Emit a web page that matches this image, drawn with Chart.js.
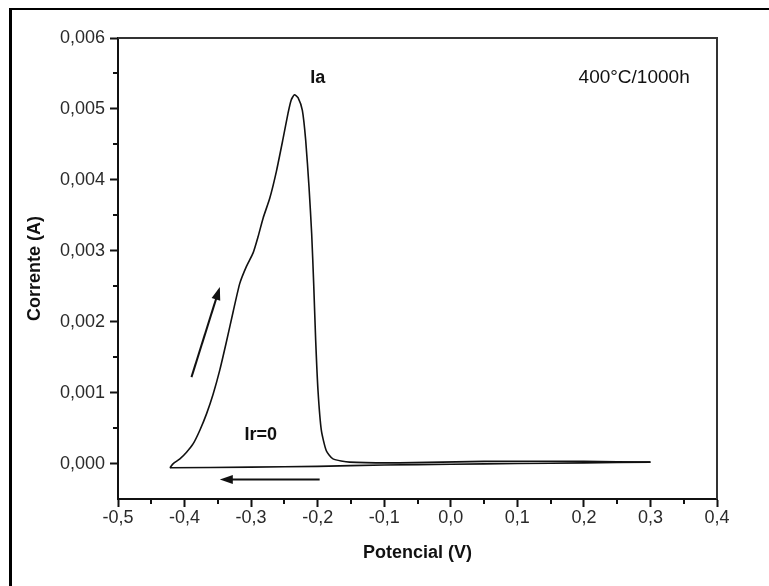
<!DOCTYPE html>
<html>
<head>
<meta charset="utf-8">
<script src="https://cdn.jsdelivr.net/npm/chart.js@4.4.1/dist/chart.umd.min.js"></script>
<style>
  html, body { margin: 0; padding: 0; background: #fff; }
  #wrap { position: relative; width: 769px; height: 586px; }
  #frame { position: absolute; left: 9px; top: 8px; right: 0; bottom: 0; border-left: 3px solid #000; border-top: 2px solid #000; pointer-events: none; }
</style>
</head>
<body>
<div id="wrap">
  <canvas id="cv" width="769" height="586"></canvas>
  <div id="frame"></div>
</div>
<script>
// varredura de ida (anódica)
const potencialIda = [-0.422, -0.417, -0.407, -0.397, -0.387, -0.377, -0.367, -0.357, -0.347, -0.337, -0.327, -0.317,
  -0.307, -0.297, -0.2895, -0.282, -0.272, -0.262, -0.252, -0.2445, -0.24, -0.235, -0.2295, -0.223, -0.218, -0.213, -0.209,
  -0.206, -0.203, -0.1995, -0.1945, -0.187, -0.177, -0.152, -0.077, 0.05, 0.2, 0.3];
const correnteIda = [-0.00006, 0.0, 0.000066, 0.00016, 0.00028, 0.00047, 0.0007, 0.00098, 0.00132, 0.00172, 0.00214, 0.00254,
  0.00278, 0.00297, 0.0032, 0.00346, 0.00374, 0.00412, 0.00458, 0.00494, 0.00512, 0.0052, 0.00516, 0.00498, 0.00456, 0.0039, 0.00324,
  0.00254, 0.00174, 0.00103, 0.00047, 0.00018, 0.000066, 0.00002, 0.00001, 0.00003, 0.00003, 0.00002];
// varredura de volta (catódica)
const potencialVolta = [0.3, 0.2, 0.1, 0.0, -0.1, -0.2, -0.3, -0.422];
const correnteVolta = [0.00002, 0.00001, 0.0, -0.00001, -0.00002, -0.00004, -0.00005, -0.00006];

const xTicks = [-0.5, -0.4, -0.3, -0.2, -0.1, 0.0, 0.1, 0.2, 0.3, 0.4];
const yTicks = [0.000, 0.001, 0.002, 0.003, 0.004, 0.005, 0.006];

const FONT = "'Liberation Sans', Arial, Helvetica, sans-serif";
const pts = (xs, ys) => xs.map((x, i) => ({ x: x, y: ys[i] }));
const virgula = (v, d) => v.toFixed(d).replace('.', ',');
const meios = arr => arr.slice(1).map((v, i) => (v + arr[i]) / 2);

const extras = {
  id: 'extras',
  afterDraw(chart) {
    const { ctx, chartArea: a, scales: { x, y } } = chart;
    ctx.save();
    // moldura superior e direita
    ctx.strokeStyle = '#333';
    ctx.lineWidth = 2;
    ctx.beginPath();
    ctx.moveTo(a.left, a.top); ctx.lineTo(a.right, a.top); ctx.lineTo(a.right, a.bottom);
    ctx.stroke();
    // ticks menores
    ctx.strokeStyle = '#111';
    ctx.lineWidth = 2;
    ctx.beginPath();
    meios(xTicks).forEach(v => { const px = Math.round(x.getPixelForValue(v)); ctx.moveTo(px, a.bottom); ctx.lineTo(px, a.bottom + 5); });
    meios(yTicks).concat([yTicks[yTicks.length - 1] - 0.0005]).forEach(v => { const py = Math.round(y.getPixelForValue(v)); ctx.moveTo(a.left, py); ctx.lineTo(a.left - 5, py); });
    ctx.stroke();

    // setas
    const seta = (x0, y0, x1, y1) => {
      const ax = x.getPixelForValue(x0), ay = y.getPixelForValue(y0);
      const bx = x.getPixelForValue(x1), by = y.getPixelForValue(y1);
      const ang = Math.atan2(by - ay, bx - ax);
      ctx.strokeStyle = '#111'; ctx.fillStyle = '#111'; ctx.lineWidth = 2;
      ctx.beginPath(); ctx.moveTo(ax, ay); ctx.lineTo(bx - 8 * Math.cos(ang), by - 8 * Math.sin(ang)); ctx.stroke();
      ctx.beginPath();
      ctx.moveTo(bx, by);
      ctx.lineTo(bx - 13 * Math.cos(ang) + 4.5 * Math.sin(ang), by - 13 * Math.sin(ang) - 4.5 * Math.cos(ang));
      ctx.lineTo(bx - 13 * Math.cos(ang) - 4.5 * Math.sin(ang), by - 13 * Math.sin(ang) + 4.5 * Math.cos(ang));
      ctx.closePath(); ctx.fill();
    };
    seta(-0.3896, 0.001218, -0.347, 0.002489);
    seta(-0.197, -0.000226, -0.347, -0.000226);

    // textos
    ctx.fillStyle = '#111';
    ctx.textAlign = 'center';
    ctx.textBaseline = 'middle';
    ctx.font = 'bold 18px ' + FONT;
    ctx.fillText('Ia', x.getPixelForValue(-0.2), y.getPixelForValue(0.00544));
    ctx.fillText('Ir=0', x.getPixelForValue(-0.2855), y.getPixelForValue(0.000395));
    ctx.font = '19px ' + FONT;
    ctx.fillText('400°C/1000h', x.getPixelForValue(0.2755), y.getPixelForValue(0.00544));
    ctx.restore();
  }
};

const estilo = { showLine: true, borderColor: '#111', borderWidth: 1.6, pointRadius: 0, tension: 0.2, fill: false };

new Chart(document.getElementById('cv'), {
  type: 'scatter',
  data: {
    datasets: [
      Object.assign({ label: 'ida', data: pts(potencialIda, correnteIda) }, estilo),
      Object.assign({ label: 'volta', data: pts(potencialVolta, correnteVolta) }, estilo)
    ]
  },
  options: {
    responsive: false,
    animation: false,
    layout: { padding: { left: 0, right: 52, top: 38, bottom: 0 } },
    plugins: { legend: { display: false }, tooltip: { enabled: false } },
    scales: {
      x: {
        type: 'linear',
        min: -0.5, max: 0.4,
        afterBuildTicks: s => { s.ticks = xTicks.map(v => ({ value: v })); },
        afterFit: s => { s.height = 87; },
        border: { display: true, color: '#111', width: 2 },
        grid: { drawOnChartArea: false, drawTicks: true, tickLength: 8, tickColor: '#111', tickWidth: 2 },
        ticks: { color: '#2a2a2a', font: { family: FONT, size: 18 }, padding: 0, maxRotation: 0, autoSkip: false,
                 callback: v => virgula(v, 1) },
        title: { display: true, text: 'Potencial (V)', color: '#111', font: { family: FONT, size: 18, weight: 'bold' },
                 padding: { top: 0, bottom: 22 } }
      },
      y: {
        type: 'linear',
        min: -0.0005, max: 0.006,
        afterBuildTicks: s => { s.ticks = yTicks.map(v => ({ value: v })); },
        afterFit: s => { s.width = 118; },
        border: { display: true, color: '#111', width: 2 },
        grid: { drawOnChartArea: false, drawTicks: true, tickLength: 8, tickColor: '#111', tickWidth: 2 },
        ticks: { color: '#2a2a2a', font: { family: FONT, size: 18 }, padding: 5, autoSkip: false,
                 callback: v => virgula(v, 3) },
        title: { display: true, text: 'Corrente (A)', color: '#111', font: { family: FONT, size: 18, weight: 'bold' },
                 padding: { top: 24, bottom: 0 } }
      }
    }
  },
  plugins: [extras]
});
</script>
</body>
</html>
